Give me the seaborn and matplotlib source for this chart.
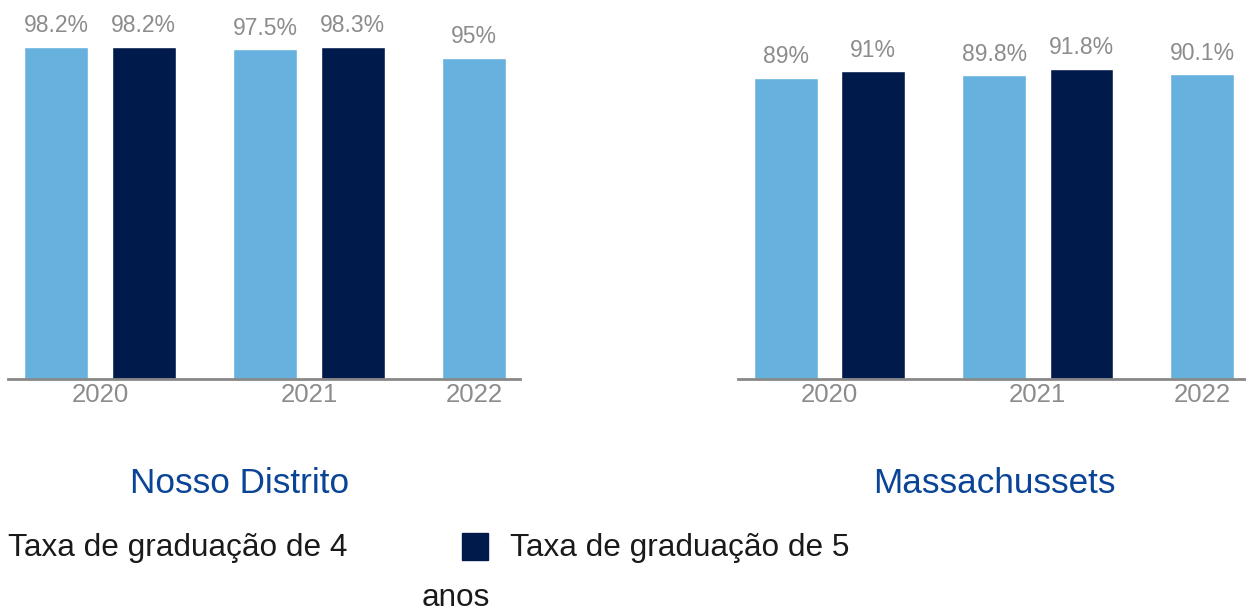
import numpy as np
import pandas as pd
import seaborn as sns
import matplotlib.pyplot as plt
from matplotlib.patches import Rectangle

years = ['2020', '2021', '2022']
series = ['4 anos', '5 anos']
distrito_4 = [98.2, 97.5, 95.0]
distrito_5 = [98.2, 98.3, np.nan]
mass_4 = [89.0, 89.8, 90.1]
mass_5 = [91.0, 91.8, np.nan]
titles = ['Nosso Distrito', 'Massachussets']

light = '#66b1de'
dark = '#011a4c'
gray = '#8c8c8c'
title_blue = '#0a4496'

sns.set_style('white')
plt.rcParams['font.family'] = ['Liberation Sans', 'DejaVu Sans']

fig = plt.figure(figsize=(12.46, 6.12), dpi=100)
ax1 = fig.add_axes([8 / 1246, 233 / 612, 512 / 1246, 338 / 612])
ax2 = fig.add_axes([738 / 1246, 233 / 612, 508 / 1246, 338 / 612])


def draw_panel(ax, v4, v5, title, xmax, title_x):
    df = pd.DataFrame({
        'ano': years * 2,
        'serie': [series[0]] * 3 + [series[1]] * 3,
        'taxa': list(v4) + list(v5),
    })
    sns.barplot(data=df, x='ano', y='taxa', hue='serie', palette=[light, dark],
                width=0.84, gap=0.27, ax=ax, legend=False, saturation=1)
    ax.set_ylim(0, 100)
    ax.set_xlim(-0.44, xmax)
    for c in ax.containers:
        labels = []
        for v in c.datavalues:
            if np.isnan(v):
                labels.append('')
            else:
                labels.append(f'{v:g}%')
        ax.bar_label(c, labels=labels, padding=7, color=gray, fontsize=16.5, clip_on=False)
    # 2022 has only the 4-year bar, tick sits under it
    ax.set_xticks([0, 1, 2 - 0.21])
    ax.set_xticklabels(years, color=gray, fontsize=18.5)
    ax.tick_params(axis='x', length=0, pad=3)
    ax.set_yticks([])
    ax.set_xlabel('')
    ax.set_ylabel('')
    for s in ['top', 'right', 'left']:
        ax.spines[s].set_visible(False)
    ax.spines['bottom'].set_color('#888888')
    ax.spines['bottom'].set_linewidth(2)
    ax.text(title_x, -0.31, title, transform=ax.transAxes, ha='center',
            va='center', fontsize=25.3, color=title_blue)


draw_panel(ax1, distrito_4, distrito_5, titles[0], 2.01, 0.453)
draw_panel(ax2, mass_4, mass_5, titles[1], 2.0, 0.505)

# legend, laid out like the original
fig.text(8 / 1246, 1 - 548 / 612, 'Taxa de graduação de 4', fontsize=22.7, va='center',
         ha='left', color='#1a1a1a')
fig.text(456 / 1246, 1 - 598 / 612, 'anos', fontsize=22.7, va='center', ha='center',
         color='#1a1a1a')
fig.patches.append(Rectangle((462 / 1246, 1 - 560 / 612), 26 / 1246, 27 / 612,
                             transform=fig.transFigure, color=dark, figure=fig))
fig.text(510 / 1246, 1 - 548 / 612, 'Taxa de graduação de 5', fontsize=22.7, va='center',
         ha='left', color='#1a1a1a')

fig.savefig('out.png', dpi=100)
